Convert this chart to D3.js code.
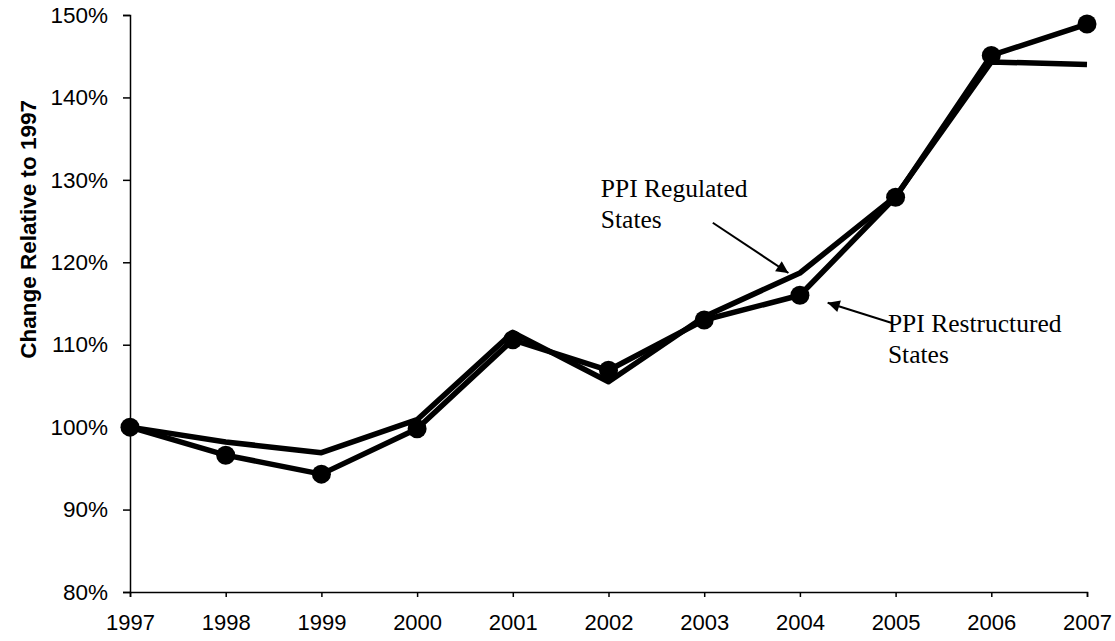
<!DOCTYPE html>
<html>
<head>
<meta charset="utf-8">
<script src="https://cdn.jsdelivr.net/npm/d3@7"></script>
<style>
  body { margin: 0; background: #fff; }
  svg { display: block; }
</style>
</head>
<body>
<div id="div_chart"></div>
<script>
// Chart data
var years = [1997, 1998, 1999, 2000, 2001, 2002, 2003, 2004, 2005, 2006, 2007];
var regulated = [100, 98.2, 96.9, 100.9, 111.5, 105.5, 113.4, 118.7, 128.0, 144.3, 144.0];
var restructured = [100, 96.6, 94.3, 99.8, 110.6, 106.9, 113.0, 116.0, 127.9, 145.1, 148.9];
var yTicks = [80, 90, 100, 110, 120, 130, 140, 150];

// Dimensions
var svgWidth = 1115;
var svgHeight = 641;
var margin = {top: 15, right: 28, bottom: 49, left: 130};
var graphWidth = svgWidth - margin.left - margin.right;
var graphHeight = svgHeight - margin.top - margin.bottom;

var svg = d3.select("#div_chart")
    .append("svg")
        .attr("width", svgWidth)
        .attr("height", svgHeight)
    .append("g")
        .attr("transform", "translate(" + margin.left + "," + margin.top + ")");

// Scales
var x = d3.scaleLinear()
    .domain([1997, 2007])
    .range([0, graphWidth]);
var y = d3.scaleLinear()
    .domain([80, 150])
    .range([graphHeight, 0]);

// Y axis
var yAxis = svg.append("g")
    .call(d3.axisLeft(y).tickValues(yTicks).tickFormat(d => d + "%").tickSizeOuter(0).tickSize(7).tickPadding(15));
yAxis.selectAll("text")
    .style("font-family", "'Liberation Sans', Arial, sans-serif")
    .style("font-size", "22.5px")
    .attr("fill", "#000");

// X axis
var xAxis = svg.append("g")
    .attr("transform", "translate(0," + graphHeight + ")")
    .call(d3.axisBottom(x).tickValues(years).tickFormat(d3.format("d")).tickSizeOuter(0).tickSize(5).tickPadding(17));
xAxis.selectAll("text")
    .style("font-family", "'Liberation Sans', Arial, sans-serif")
    .style("font-size", "22px")
    .attr("fill", "#000");

svg.selectAll(".domain, .tick line")
    .attr("stroke", "#000")
    .attr("stroke-width", 1.5);

// Y title
svg.append("text")
    .attr("transform", "translate(-94," + y(124) + ")rotate(-90)")
    .attr("text-anchor", "middle")
    .style("font-family", "'Liberation Sans', Arial, sans-serif")
    .style("font-size", "22.5px")
    .style("font-weight", "bold")
    .text("Change Relative to 1997");

// Lines
var line = d3.line()
    .x((d, i) => x(years[i]))
    .y(d => y(d));

svg.append("path")
    .datum(regulated)
    .attr("fill", "none")
    .attr("stroke", "#000")
    .attr("stroke-width", 5.5)
    .attr("stroke-linejoin", "round")
    .attr("d", line);

svg.append("path")
    .datum(restructured)
    .attr("fill", "none")
    .attr("stroke", "#000")
    .attr("stroke-width", 5.5)
    .attr("stroke-linejoin", "round")
    .attr("d", line);

svg.selectAll("dot")
    .data(restructured)
    .enter()
    .append("circle")
    .attr("cx", (d, i) => x(years[i]))
    .attr("cy", d => y(d))
    .attr("r", 9.5)
    .attr("fill", "#000");

// Annotations
svg.append("defs").append("marker")
    .attr("id", "arrow")
    .attr("viewBox", "0 0 10 10")
    .attr("refX", 10)
    .attr("refY", 5)
    .attr("markerWidth", 8)
    .attr("markerHeight", 6)
    .attr("markerUnits", "strokeWidth")
    .attr("orient", "auto")
    .append("path")
        .attr("d", "M0,0L10,5L0,10z")
        .attr("fill", "#000");

var notes = [
    {lines: ["PPI Regulated", "States"], tx: 2001.92, ty: 127.9, from: [2003.09, 124.8], to: [2003.88, 118.7]},
    {lines: ["PPI Restructured", "States"], tx: 2004.92, ty: 111.5, from: [2004.97, 112.6], to: [2004.29, 115.1]}
];

notes.forEach(function (n) {
    svg.append("line")
        .attr("x1", x(n.from[0])).attr("y1", y(n.from[1]))
        .attr("x2", x(n.to[0])).attr("y2", y(n.to[1]))
        .attr("stroke", "#000")
        .attr("stroke-width", 2)
        .attr("marker-end", "url(#arrow)");
    var t = svg.append("text")
        .attr("x", x(n.tx))
        .attr("y", y(n.ty))
        .style("font-family", "'Liberation Serif', 'Times New Roman', serif")
        .style("font-size", "25.5px")
        .attr("fill", "#000");
    n.lines.forEach(function (s, i) {
        t.append("tspan")
            .attr("x", x(n.tx))
            .attr("dy", i === 0 ? 0 : 31)
            .text(s);
    });
});
</script>
</body>
</html>
